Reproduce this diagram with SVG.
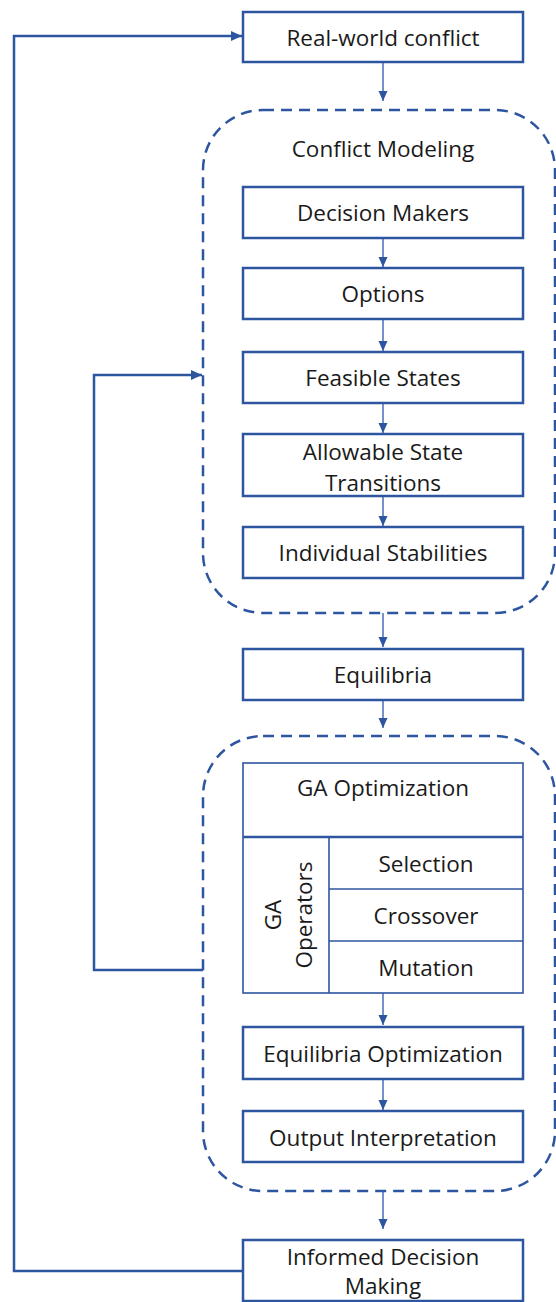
<svg xmlns="http://www.w3.org/2000/svg" width="556" height="1302" viewBox="0 0 556 1302">
<style>
.box{fill:#fff;stroke:#2E55A0;stroke-width:2.5}
.tbl{fill:none;stroke:#2E55A0;stroke-width:1.6}
.grp{fill:none;stroke:#2E55A0;stroke-width:2.5;stroke-dasharray:11 7}
.t{font-family:"Open Sans","Liberation Sans",sans-serif;font-size:22.5px;fill:#1a1a1a;text-anchor:middle;dominant-baseline:central}
.ar{fill:none;stroke:#3A63B5;stroke-width:1.4}
.fb{fill:none;stroke:#2E55A0;stroke-width:2.5}
</style>
<defs>
<marker id="ah" markerUnits="userSpaceOnUse" markerWidth="10" markerHeight="10" viewBox="0 0 10 10" refX="10" refY="5" orient="auto">
<path d="M0,0.5 L10,5 L0,9.5 Z" fill="#2E55A0"/>
</marker>
<marker id="ahb" markerUnits="userSpaceOnUse" markerWidth="11" markerHeight="11" viewBox="0 0 10 10" refX="10" refY="5" orient="auto">
<path d="M0,0.5 L10,5 L0,9.5 Z" fill="#2E55A0"/>
</marker>
</defs>

<g id="group-conflict-modeling">
<rect class="grp" x="203" y="110" width="352" height="503" rx="60" ry="60"/>
<text class="t" x="383" y="148">Conflict Modeling</text>
</g>
<g id="group-ga">
<rect class="grp" x="203" y="736" width="352" height="455" rx="60" ry="60"/>
</g>

<g id="connectors">
<line class="ar" x1="383" y1="62" x2="383" y2="101" marker-end="url(#ah)"/>
<line class="ar" x1="383" y1="238" x2="383" y2="267" marker-end="url(#ah)"/>
<line class="ar" x1="383" y1="319" x2="383" y2="351" marker-end="url(#ah)"/>
<line class="ar" x1="383" y1="403" x2="383" y2="433" marker-end="url(#ah)"/>
<line class="ar" x1="383" y1="496" x2="383" y2="526" marker-end="url(#ah)"/>
<line class="ar" x1="383" y1="613" x2="383" y2="647" marker-end="url(#ah)"/>
<line class="ar" x1="383" y1="700" x2="383" y2="728" marker-end="url(#ah)"/>
<line class="ar" x1="383" y1="993" x2="383" y2="1025" marker-end="url(#ah)"/>
<line class="ar" x1="383" y1="1079" x2="383" y2="1110" marker-end="url(#ah)"/>
<line class="ar" x1="383" y1="1191" x2="383" y2="1229" marker-end="url(#ah)"/>
<path class="fb" d="M203,970 L94,970 L94,375 L202,375" marker-end="url(#ahb)"/>
<path class="fb" d="M243,1271 L14,1271 L14,36 L242,36" marker-end="url(#ahb)"/>
</g>

<g id="node-real-world">
<rect class="box" x="243" y="12" width="280" height="50"/>
<text class="t" x="383" y="37">Real-world conflict</text>
</g>
<g id="node-decision-makers">
<rect class="box" x="243" y="187" width="280" height="51"/>
<text class="t" x="383" y="212">Decision Makers</text>
</g>
<g id="node-options">
<rect class="box" x="243" y="268" width="280" height="51"/>
<text class="t" x="383" y="293">Options</text>
</g>
<g id="node-feasible-states">
<rect class="box" x="243" y="352" width="280" height="51"/>
<text class="t" x="383" y="377">Feasible States</text>
</g>
<g id="node-allowable">
<rect class="box" x="243" y="434" width="280" height="62"/>
<text class="t" x="383" y="451">Allowable State</text>
<text class="t" x="383" y="482">Transitions</text>
</g>
<g id="node-individual">
<rect class="box" x="243" y="527" width="280" height="51"/>
<text class="t" x="383" y="552">Individual Stabilities</text>
</g>
<g id="node-equilibria">
<rect class="box" x="243" y="649" width="280" height="51"/>
<text class="t" x="383" y="674">Equilibria</text>
</g>
<g id="node-ga-optimization">
<rect class="tbl" x="243" y="763" width="280" height="230"/>
<line x1="243" y1="837" x2="523" y2="837" stroke="#2E55A0" stroke-width="2.6"/>
<line class="tbl" x1="329" y1="837" x2="329" y2="993"/>
<line class="tbl" x1="329" y1="889" x2="523" y2="889"/>
<line class="tbl" x1="329" y1="941" x2="523" y2="941"/>
<text class="t" x="383" y="787">GA Optimization</text>
<text class="t" x="426" y="863">Selection</text>
<text class="t" x="426" y="915">Crossover</text>
<text class="t" x="426" y="967">Mutation</text>
<text class="t" transform="translate(272,915) rotate(-90)" x="0" y="0">GA</text>
<text class="t" transform="translate(303,915) rotate(-90)" x="0" y="0">Operators</text>
</g>
<g id="node-equilibria-optimization">
<rect class="box" x="243" y="1027" width="280" height="52"/>
<text class="t" x="383" y="1053">Equilibria Optimization</text>
</g>
<g id="node-output">
<rect class="box" x="243" y="1111" width="280" height="51"/>
<text class="t" x="383" y="1137">Output Interpretation</text>
</g>
<g id="node-informed">
<rect class="box" x="243" y="1240" width="280" height="61"/>
<text class="t" x="383" y="1256">Informed Decision</text>
<text class="t" x="383" y="1285">Making</text>
</g>
</svg>
